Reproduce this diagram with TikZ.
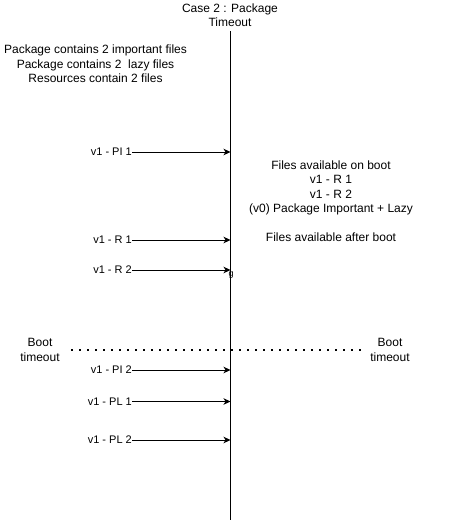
\documentclass[tikz,border=0pt]{standalone}
\usepackage{fontspec}
\setmainfont{Liberation Sans}
\usetikzlibrary{arrows.meta}
\begin{document}
\begin{tikzpicture}[x=1pt,y=-1pt,
  txt/.style={font=\fontsize{12}{14.3}\selectfont, align=center, inner sep=0pt},
  lbl/.style={font=\fontsize{11}{13}\selectfont, inner sep=0pt, anchor=east},
  msg/.style={line width=0.8pt, -{Stealth[length=7pt,width=6.5pt,inset=2pt]}}]
\useasboundingbox (0,0) rectangle (450,522);
\coordinate (top) at (230.5,31);
\coordinate (bot) at (230.5,520);
\draw[line width=0.8pt] (top) -- (bot);
\node[txt] (title) at (230,15) {Case 2 : Package\\Timeout};
\node[txt] (info) at (95.5,64) {Package contains 2 important files\\Package contains 2 \ lazy files\\Resources contain 2 files};
\node[txt] (avail) at (331,201) {Files available on boot\\v1 - R 1\\v1 - R 2\\(v0) Package Important + Lazy\\[14.3pt]Files available after boot};
% messages
\node[lbl] (m1) at (132,152) {v1 - PI 1};
\coordinate (e1) at (230.5,152);
\draw[msg] (m1.east) -- (e1);
\node[lbl] (m2) at (132,240) {v1 - R 1};
\coordinate (e2) at (230.5,240);
\draw[msg] (m2.east) -- (e2);
\node[lbl] (m3) at (132,270) {v1 - R 2};
\coordinate (e3) at (230.5,270);
\draw[msg] (m3.east) -- (e3);
\node[font=\fontsize{9}{10}\selectfont, inner sep=0pt] (g) at (231,275.5) {g};
\node[lbl] (m4) at (132,370) {v1 - PI 2};
\coordinate (e4) at (230.5,370);
\draw[msg] (m4.east) -- (e4);
\node[lbl] (m5) at (132,401.5) {v1 - PL 1};
\coordinate (e5) at (230.5,401.5);
\draw[msg] (m5.east) -- (e5);
\node[lbl] (m6) at (132,440) {v1 - PL 2};
\coordinate (e6) at (230.5,440);
\draw[msg] (m6.east) -- (e6);
% boot timeout
\node[txt] (btl) at (40,350) {Boot\\timeout};
\node[txt] (btr) at (390,350) {Boot\\timeout};
\coordinate (d1) at (71,350);
\coordinate (d2) at (362,350);
\draw[line width=1.6pt, dash pattern=on 1.6pt off 6.4pt] (d1) -- (d2);
\end{tikzpicture}
\end{document}
